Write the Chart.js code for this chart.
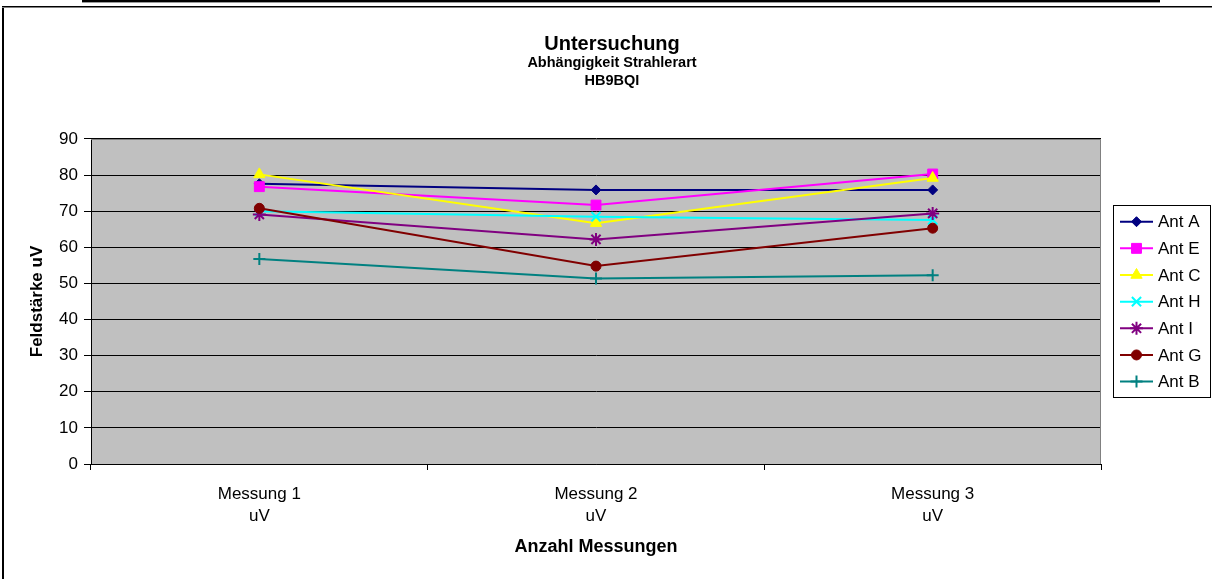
<!DOCTYPE html>
<html>
<head>
<meta charset="utf-8">
<script src="https://cdn.jsdelivr.net/npm/chart.js@4/dist/chart.umd.min.js"></script>
<style>
  html, body { margin: 0; padding: 0; background: #ffffff; }
  #wrap { width: 1212px; height: 579px; }
</style>
</head>
<body>
<div id="wrap"><canvas id="c" width="1212" height="579"></canvas></div>
<script>
const categories = [["Messung 1", "uV"], ["Messung 2", "uV"], ["Messung 3", "uV"]];
const seriesNames = ["Ant A", "Ant E", "Ant C", "Ant H", "Ant I", "Ant G", "Ant B"];
const antA = [77.6, 75.9, 75.9];
const antE = [76.8, 71.7, 80.3];
const antC = [80.2, 66.7, 79.2];
const antH = [70.0, 68.5, 67.6];
const antI = [69.1, 62.2, 69.4];
const antG = [70.8, 54.8, 65.3];
const antB = [56.8, 51.4, 52.3];
const yTicks = [0, 10, 20, 30, 40, 50, 60, 70, 80, 90];

const FONT = "'Liberation Sans', Arial, Helvetica, sans-serif";
const colors = ["#000080", "#FF00FF", "#FFFF00", "#00FFFF", "#800080", "#800000", "#008080"];
const styles = ["rectRot", "rect", "triangle", "crossRot", "star", "circle", "cross"];
const radii = [5, 7, 6.5, 6.5, 6.5, 5, 6];
const values = [antA, antE, antC, antH, antI, antG, antB];

const datasets = seriesNames.map((name, i) => ({
  label: name,
  data: values[i],
  borderColor: colors[i],
  backgroundColor: colors[i],
  pointBackgroundColor: colors[i],
  pointBorderColor: colors[i],
  pointStyle: styles[i],
  pointRadius: radii[i],
  pointBorderWidth: (styles[i] === "cross" || styles[i] === "crossRot" || styles[i] === "star") ? 2 : 1,
  borderWidth: 2,
  tension: 0,
  fill: false,
  yAxisID: "y",
  order: seriesNames.length - i
}));

const decor = {
  id: "decor",
  beforeDraw(chart) {
    const ctx = chart.ctx;
    const a = chart.chartArea;
    ctx.save();
    ctx.fillStyle = "#ffffff";
    ctx.fillRect(0, 0, chart.width, chart.height);
    // stray top line
    ctx.fillStyle = "#000000";
    ctx.fillRect(82, 0, 1078, 2);
    ctx.fillStyle = "#9a9a9a";
    ctx.fillRect(82, 2, 1078, 1);
    // outer border
    ctx.fillStyle = "#000000";
    ctx.fillRect(2, 6, 1210, 1);
    ctx.fillRect(2, 6, 2, 573);
    ctx.fillStyle = "#808080";
    ctx.fillRect(2, 7, 1210, 1);
    // plot background
    ctx.fillStyle = "#C0C0C0";
    ctx.fillRect(a.left, a.top, a.right - a.left, a.bottom - a.top);
    ctx.restore();
  },
  beforeDatasetsDraw(chart) {
    const ctx = chart.ctx;
    const a = chart.chartArea;
    ctx.save();
    ctx.strokeStyle = "#808080";
    ctx.lineWidth = 1;
    ctx.beginPath();
    ctx.moveTo(a.left, a.top + 0.5);
    ctx.lineTo(a.right - 0.5, a.top + 0.5);
    ctx.lineTo(a.right - 0.5, a.bottom);
    ctx.stroke();
    ctx.restore();
  },
  afterDraw(chart) {
    const ctx = chart.ctx;
    ctx.save();
    // legend box
    const bx = 1113, by = 205, bw = 97, bh = 192;
    ctx.fillStyle = "#ffffff";
    ctx.fillRect(bx, by, bw, bh);
    ctx.strokeStyle = "#000000";
    ctx.lineWidth = 1;
    ctx.strokeRect(bx + 0.5, by + 0.5, bw, bh);
    const dsList = chart.data.datasets;
    ctx.font = "17px " + FONT;
    ctx.textBaseline = "middle";
    ctx.textAlign = "left";
    dsList.forEach((ds, i) => {
      const y = 221.7 + i * 26.65;
      ctx.strokeStyle = ds.borderColor;
      ctx.lineWidth = 2;
      ctx.beginPath();
      ctx.moveTo(1120, y);
      ctx.lineTo(1153, y);
      ctx.stroke();
      ctx.fillStyle = ds.pointBackgroundColor;
      ctx.strokeStyle = ds.pointBorderColor;
      ctx.lineWidth = ds.pointBorderWidth;
      Chart.helpers.drawPoint(ctx, { pointStyle: ds.pointStyle, radius: ds.pointRadius, borderWidth: ds.pointBorderWidth, rotation: 0 }, 1136.5, y);
      ctx.fillStyle = "#000000";
      ctx.fillText(ds.label, 1158, y + 1);
    });
    ctx.restore();
  }
};

new Chart(document.getElementById("c"), {
  type: "line",
  data: { labels: categories, datasets: datasets },
  plugins: [decor],
  options: {
    responsive: false,
    animation: false,
    devicePixelRatio: 1,
    layout: { padding: { left: 12, right: 0, top: 0, bottom: 0 } },
    plugins: {
      legend: { display: false },
      tooltip: { enabled: false },
      title: {
        display: true,
        text: "Untersuchung",
        color: "#000000",
        font: { family: FONT, size: 20, weight: "bold", lineHeight: 1.0 },
        padding: { top: 34, bottom: 0 }
      },
      subtitle: {
        display: true,
        text: ["Abhängigkeit Strahlerart", "HB9BQI"],
        color: "#000000",
        font: { family: FONT, size: 14.5, weight: "bold", lineHeight: 1.241 },
        padding: { top: 0, bottom: 49 }
      }
    },
    scales: {
      x: {
        type: "category",
        offset: true,
        afterFit(scale) { scale.height = 115; },
        border: { display: true, color: "#000000", width: 1 },
        grid: { offset: true, drawOnChartArea: false, drawTicks: true, tickLength: 6, color: "#000000" },
        ticks: {
          color: "#000000",
          font: { family: FONT, size: 17, lineHeight: 1.294 },
          padding: 13,
          maxRotation: 0,
          autoSkip: false
        },
        title: {
          display: true,
          text: "Anzahl Messungen",
          color: "#000000",
          font: { family: FONT, size: 18, weight: "bold", lineHeight: 1.2 },
          padding: { top: 0, bottom: 21.2 }
        }
      },
      y: {
        position: "left",
        min: 0,
        max: 90,
        afterFit(scale) { scale.width = 79; },
        afterBuildTicks(scale) { scale.ticks = yTicks.map(v => ({ value: v })); },
        border: { display: true, color: "#000000", width: 1 },
        grid: { color: "#000000", lineWidth: 1, drawTicks: true, tickLength: 7 },
        ticks: {
          color: "#000000",
          font: { family: FONT, size: 17 },
          padding: 6
        },
        title: {
          display: true,
          text: "Feldstärke uV",
          color: "#000000",
          font: { family: FONT, size: 17, weight: "bold", lineHeight: 1.2 },
          padding: { top: 14.8, bottom: 0 }
        }
      },
      legendSpace: {
        type: "linear",
        position: "right",
        display: true,
        min: 0,
        max: 1,
        afterFit(scale) { scale.width = 111; },
        border: { display: false },
        grid: { display: false, drawOnChartArea: false },
        ticks: { display: false },
        title: { display: false }
      }
    }
  }
});
</script>
</body>
</html>
